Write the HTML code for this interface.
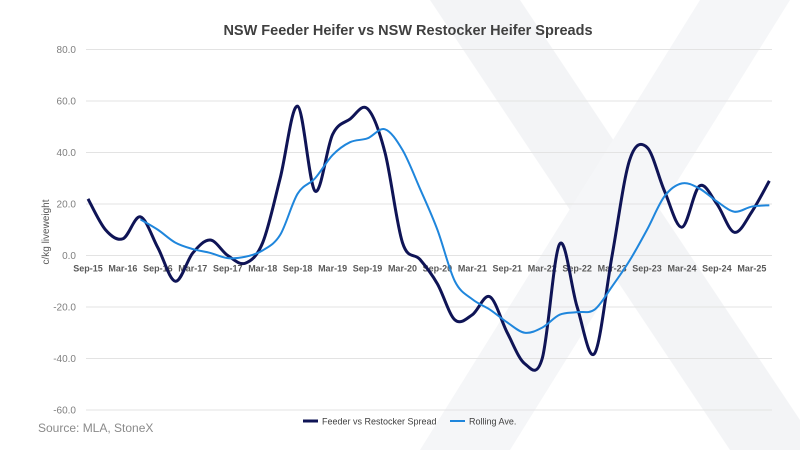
<!DOCTYPE html>
<html><head><meta charset="utf-8"><style>
body{margin:0;background:#fff;}
svg{display:block;font-family:"Liberation Sans",sans-serif;}
</style></head><body>
<svg id="chart" width="800" height="450">
<polygon points="430,0 520,0 800,420 800,450 730,450" fill="#f3f4f6"/>
<polygon points="700,0 790,0 510,450 420,450" fill="#f5f6f8"/>
<text x="408" y="35" text-anchor="middle" font-size="14.5" font-weight="bold" fill="#404040">NSW Feeder Heifer vs NSW Restocker Heifer Spreads</text>
<text transform="translate(49,232) rotate(-90)" text-anchor="middle" font-size="10" fill="#595959">c/kg liveweight</text>
<g id="grid"></g><g id="ylab"></g><g id="xlab"></g><g id="lines"></g>
<g>
<line x1="303" y1="421" x2="318" y2="421" stroke="#0f1456" stroke-width="3"/>
<text x="322" y="424.5" font-size="9" fill="#404040">Feeder vs Restocker Spread</text>
<line x1="450" y1="421" x2="465" y2="421" stroke="#1f86dc" stroke-width="2"/>
<text x="469" y="424.5" font-size="9" fill="#404040">Rolling Ave.</text>
</g>
<text x="38" y="432" font-size="12" fill="#8a8a8a">Source: MLA, StoneX</text>
</svg>
<script>
const xLabels=["Sep-15","Mar-16","Sep-16","Mar-17","Sep-17","Mar-18","Sep-18","Mar-19","Sep-19","Mar-20","Sep-20","Mar-21","Sep-21","Mar-22","Sep-22","Mar-23","Sep-23","Mar-24","Sep-24","Mar-25"];
const yTicks=[80,60,40,20,0,-20,-40,-60];
const feeder=[22,10,6.5,15,3,-10,1,6,0,-3,5,30,58,25,47,53,57,40,5,-1.5,-11,-25,-23,-16,-30,-42,-40,4.5,-20,-38,0,37,42,25,11,27,20,9,17,29];
const rollingStart=3;
const rolling=[14,10,5,2.5,1,-1,-0.5,2,8,24,30,39,44,45.5,49,41,26,10,-10,-17,-21,-26,-30,-28,-23,-22,-21,-12,-2,10,23,28,26,21,17,19,19.5];
const NS="http://www.w3.org/2000/svg";
const x0=88,step=17.47,yZero=255.5,yScale=51.5/20,gx1=86,gx2=772;
const X=i=>x0+i*step, Y=v=>yZero-v*yScale;
function mk(tag,attrs,parent){const e=document.createElementNS(NS,tag);for(const k in attrs)e.setAttribute(k,attrs[k]);document.getElementById(parent).appendChild(e);return e;}
yTicks.forEach(v=>{
 const l=mk('line',{x1:gx1,x2:gx2,y1:Y(v),y2:Y(v),stroke:'#e3e3e3','stroke-width':1},'grid');
 
 
 const t=mk('text',{x:76,y:Y(v)+3.5,'text-anchor':'end','font-size':10,fill:'#7f7f7f'},'ylab');
 t.textContent=v.toFixed(1);
 
 
});
xLabels.forEach((s,i)=>{
 const t=mk('text',{x:X(i*2),y:Y(0)+16,'text-anchor':'middle','font-size':9,'font-weight':'bold',fill:'#595959'},'xlab');
 t.textContent=s;
 
 
});
function path(pts){let d='M'+pts[0][0]+','+pts[0][1];for(let i=0;i<pts.length-1;i++){const p0=pts[i-1]||pts[i],p1=pts[i],p2=pts[i+1],p3=pts[i+2]||p2;
 d+=' C'+(p1[0]+(p2[0]-p0[0])/6)+','+(p1[1]+(p2[1]-p0[1])/6)+' '+(p2[0]-(p3[0]-p1[0])/6)+','+(p2[1]-(p3[1]-p1[1])/6)+' '+p2[0]+','+p2[1];}return d;}
const pf=mk('path',{d:path(feeder.map((v,i)=>[X(i),Y(v)])),fill:'none',stroke:'#0f1456','stroke-width':3,'stroke-linejoin':'round'},'lines');


const pr=mk('path',{d:path(rolling.map((v,i)=>[X(i+rollingStart),Y(v)])),fill:'none',stroke:'#1f86dc','stroke-width':2},'lines');


</script>
</body></html>
